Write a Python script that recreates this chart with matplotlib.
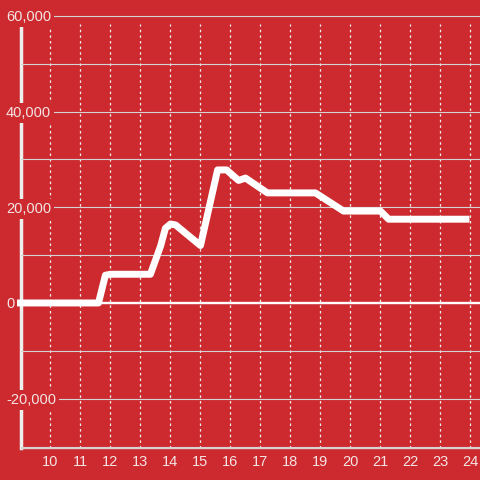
import matplotlib
matplotlib.use("Agg")
import matplotlib.pyplot as plt

# data
x_vals = [9.0, 11.6, 11.83, 12.0, 13.33, 13.67, 13.83, 14.0, 14.17, 15.0,
          15.57, 15.87, 16.27, 16.5, 17.23, 18.83, 19.77, 21.0, 21.27, 23.85]
y_vals = [0, 0, 5800, 6000, 6000, 11900, 15600, 16500, 16300, 12000,
          27800, 27800, 25600, 26100, 23000, 23000, 19200, 19200, 17500, 17500]
x_ticks = list(range(10, 25))
y_ticks = list(range(-30000, 60001, 10000))
y_labels = [f"{v:,}" if v % 20000 == 0 else "" for v in y_ticks]

bg = "#cc2a2f"
txt = "#f4e4e4"

plt.rcParams["font.family"] = ["Liberation Sans", "DejaVu Sans"]

fig = plt.figure(figsize=(4.8, 4.8), dpi=100, facecolor=bg)
ax = fig.add_axes([20.5 / 480, 32 / 480, 1 - 20.5 / 480, 448 / 480])
ax.set_facecolor(bg)

ax.set_xlim(9, 24.317)
ax.set_ylim(-30300, 63300)

# horizontal grid
ax.set_yticks(y_ticks)
ax.set_yticklabels(y_labels)
ax.yaxis.grid(True, color="#d4d4d4", linewidth=0.8)
ax.tick_params(axis="y", length=0, pad=10.4, labelsize=10.5, labelcolor=txt)
for lab in ax.get_yticklabels():
    lab.set_horizontalalignment("left")
    lab.set_bbox(dict(facecolor=bg, edgecolor="none", pad=2))

# vertical dotted grid (stops below the top label)
ax.set_xticks(x_ticks)
ax.tick_params(axis="x", length=0, pad=5, labelsize=10.5, labelcolor=txt)
ax.vlines(x_ticks, -30300, 58300, colors="#eeeeee", linewidth=0.9,
          linestyles=(0, (2, 2.5)), zorder=1.2)

for side in ["top", "right"]:
    ax.spines[side].set_visible(False)
ax.spines["left"].set_color("#eeeeee")
ax.spines["left"].set_linewidth(2.5)
ax.spines["left"].set_bounds(-30300, 58300)
ax.spines["left"].set_zorder(1)
ax.spines["bottom"].set_color("#d4d4d4")
ax.spines["bottom"].set_linewidth(1)

ax.axhline(0, color="white", linewidth=1.7, zorder=1.8)

ax.plot(x_vals, y_vals, color="white", linewidth=5, solid_capstyle="projecting",
        solid_joinstyle="round", clip_on=False, zorder=3)

fig.savefig("out.png", dpi=100, facecolor=bg)
